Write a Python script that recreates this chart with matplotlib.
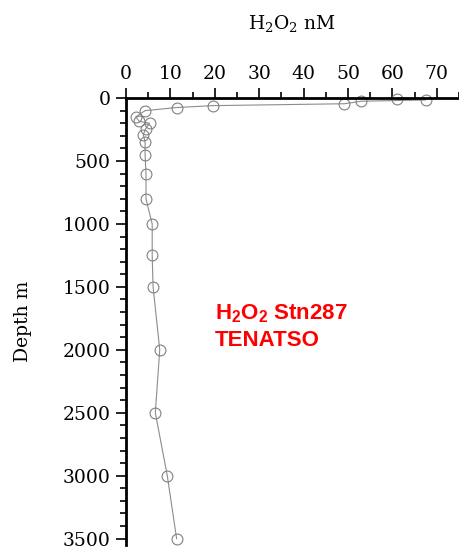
import matplotlib
matplotlib.use("Agg")
import matplotlib.pyplot as plt
from matplotlib.ticker import MultipleLocator

# H2O2 profile, station 287 (TENATSO)
h2o2 = [61.0, 67.5, 53.0, 49.2, 19.6, 11.4, 4.3, 2.2, 3.0, 5.3, 4.4, 3.9,
        4.3, 4.3, 4.5, 4.5, 5.9, 5.9, 6.1, 7.6, 6.6, 9.3, 11.4]
depth = [10, 15, 25, 45, 60, 75, 100, 150, 185, 200, 245, 290,
         350, 450, 600, 800, 1000, 1250, 1500, 2000, 2500, 3000, 3500]
xticks = [0, 10, 20, 30, 40, 50, 60, 70]
yticks = [0, 500, 1000, 1500, 2000, 2500, 3000, 3500]

plt.rcParams['font.family'] = ['DejaVu Serif']
plt.rcParams['mathtext.default'] = 'regular'

fig = plt.figure(figsize=(4.59, 5.51), dpi=100)
ax = fig.add_axes([0.2745, 0.011, 0.7255, 0.811])

ax.plot(h2o2, depth, '-', color='#8c8c8c', lw=0.8, marker='o', ms=7.8,
        mfc='none', mec='#808080', mew=0.8, clip_on=False)

ax.set_xlim(0, 75)
ax.set_ylim(3550, 0)
ax.xaxis.set_label_position('top')
ax.xaxis.tick_top()
ax.set_xticks(xticks)
ax.set_yticks(yticks)
ax.xaxis.set_minor_locator(MultipleLocator(5))
ax.yaxis.set_minor_locator(MultipleLocator(100))
ax.tick_params(which='major', direction='out', length=7, width=1.2,
               labelsize=13.5, pad=4)
ax.tick_params(which='minor', direction='out', length=4, width=1.2)

for s in ['right', 'bottom']:
    ax.spines[s].set_visible(False)
for s in ['top', 'left']:
    ax.spines[s].set_linewidth(2)

ax.set_xlabel('H$_2$O$_2$ nM', fontsize=13.5, labelpad=26)
ax.set_ylabel('Depth m', fontsize=13.5, labelpad=22)

fig.text(0.468, 0.452, 'H$_2$O$_2$ Stn287\nTENATSO',
         color='red', fontsize=16, fontweight='bold',
         family='Liberation Sans', linespacing=1.35, va='top', ha='left')

fig.savefig('out.png', dpi=100)
